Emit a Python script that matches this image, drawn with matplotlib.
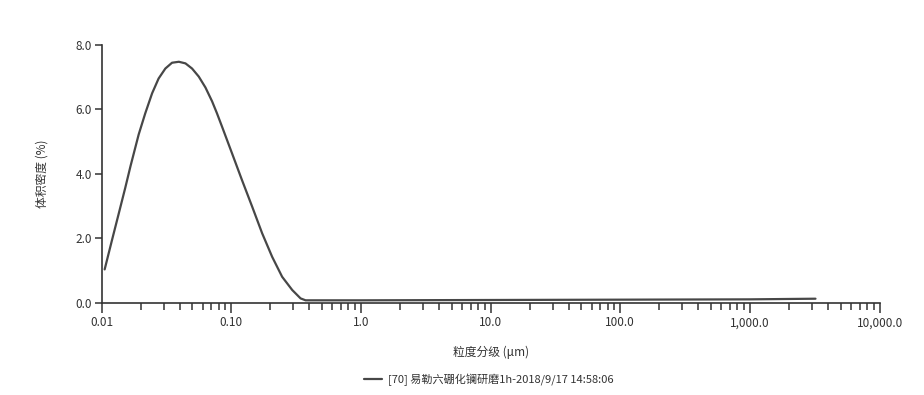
import matplotlib
matplotlib.use("Agg")
import matplotlib.pyplot as plt
from matplotlib.ticker import FixedLocator, LogLocator, NullFormatter

plt.rcParams['font.family'] = ['Noto Sans CJK SC', 'DejaVu Sans']

# particle size (µm) and volume density (%)
size_um = [0.01055, 0.0120, 0.0135, 0.0152, 0.0167, 0.0193, 0.0217, 0.0245, 0.0275,
           0.0310, 0.0349, 0.0394, 0.0443, 0.0498, 0.0561, 0.0632, 0.0711, 0.0775, 0.0849,
           0.1014, 0.121, 0.1448, 0.173, 0.2066, 0.2467, 0.295, 0.342, 0.374,
           1.0, 10.0, 100.0, 1000.0, 3200.0]
density = [1.03, 1.93, 2.74, 3.56, 4.24, 5.22, 5.88, 6.50, 6.96,
           7.27, 7.45, 7.48, 7.43, 7.27, 7.02, 6.68, 6.25, 5.88, 5.46,
           4.63, 3.80, 2.98, 2.15, 1.42, 0.80, 0.39, 0.13, 0.07,
           0.07, 0.08, 0.09, 0.10, 0.12]

xticks = [0.01, 0.1, 1, 10, 100, 1000, 10000]
xticklabels = ["0.01", "0.10", "1.0", "10.0", "100.0", "1,000.0", "10,000.0"]
yticks = [0, 2, 4, 6, 8]
yticklabels = ["0.0", "2.0", "4.0", "6.0", "8.0"]
legend_label = "[70] 易勒六硼化镧研磨1h-2018/9/17 14:58:06"

fig = plt.figure(figsize=(9.24, 3.95), dpi=100)
ax = fig.add_axes([0.110, 0.234, 0.842, 0.652])

ax.plot(size_um, density, color="#474747", lw=1.6, label=legend_label,
        solid_capstyle='round', solid_joinstyle='round')

ax.set_xscale("log")
ax.set_xlim(0.01, 10000)
ax.set_ylim(0, 8)
ax.xaxis.set_major_locator(FixedLocator(xticks))
ax.set_xticklabels(xticklabels)
ax.xaxis.set_minor_locator(LogLocator(base=10, subs=range(2, 10)))
ax.xaxis.set_minor_formatter(NullFormatter())
ax.set_yticks(yticks)
ax.set_yticklabels(yticklabels)

for s in ["top", "right"]:
    ax.spines[s].set_visible(False)
for s in ["left", "bottom"]:
    ax.spines[s].set_color("#333333")
    ax.spines[s].set_linewidth(1.2)

ax.tick_params(axis="x", which="major", direction="out", length=7, width=1.1,
               colors="#333333", labelsize=8.5, pad=3)
ax.tick_params(axis="x", which="minor", direction="out", length=5, width=1.1, colors="#333333")
ax.tick_params(axis="y", which="major", direction="out", length=5, width=1.1,
               colors="#333333", labelsize=8.5, pad=2)

ax.set_xlabel("粒度分级 (μm)", fontsize=8.5, color="#333333", labelpad=12)
ax.set_ylabel("体积密度 (%)", fontsize=8.5, color="#333333", labelpad=19)

leg = fig.legend(loc="center", bbox_to_anchor=(0.529, 0.038), frameon=False,
                 fontsize=8, handlelength=1.6, handletextpad=0.5)
for t in leg.get_texts():
    t.set_color("#333333")

fig.savefig("out.png", dpi=100, facecolor="white")
